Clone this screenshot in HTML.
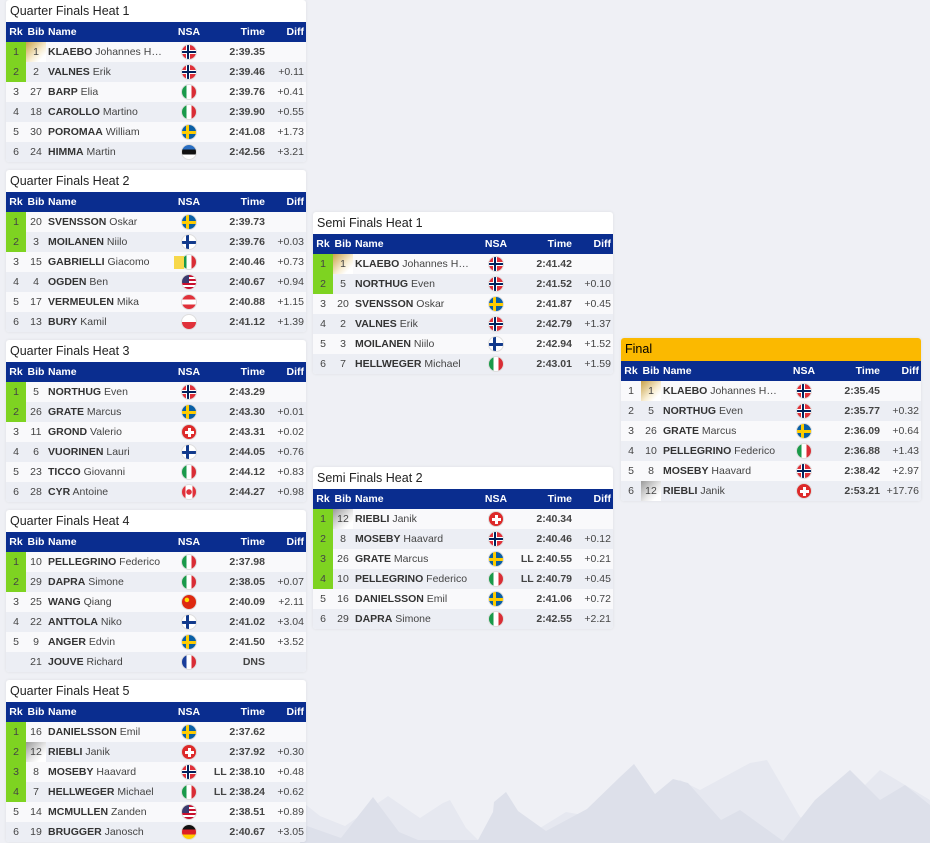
<!DOCTYPE html>
<html><head><meta charset="utf-8">
<style>
*{box-sizing:border-box;margin:0;padding:0}
body{width:930px;height:843px;background:#eff0f5;position:relative;overflow:hidden;font-family:"Liberation Sans",Arial,sans-serif;color:#333}
svg.bg{position:absolute;left:0;top:0}
.p{position:absolute;width:300px;background:#fff;border-radius:3px;box-shadow:0 0 3px rgba(0,0,0,.08);overflow:hidden}
.t{height:22px;line-height:22px;font-size:12.5px;padding-left:4px;color:#222}
.fin .t{background:#fbb900;height:23px;line-height:23px;color:#000}
table{border-collapse:collapse;table-layout:fixed;width:300px;font-size:10.5px}
th{background:#0a2d8f;color:#fff;font-weight:bold;height:20px;font-size:10.5px}
td{height:20px;white-space:nowrap;overflow:hidden;color:#444}
td b{color:#333}
tr:nth-child(odd) td{background:#eceef4}
tr:nth-child(even) td{background:#f9f9fb}
td:nth-child(1),th:nth-child(1){text-align:center}
td:nth-child(2),th:nth-child(2){text-align:center}
td:nth-child(3),th:nth-child(3){text-align:left;padding-left:2px;text-overflow:ellipsis}
td:nth-child(4),th:nth-child(4){text-align:center;position:relative}
td:nth-child(5),th:nth-child(5){text-align:right;padding-right:2px;font-weight:bold}
td:nth-child(6),th:nth-child(6){text-align:right;padding-right:2px}
th:nth-child(5),th:nth-child(6){color:#fff}
tr.q td:nth-child(1){background:#7ed321}
td.g{background:linear-gradient(135deg,#c9a24a,#f7ecd0 55%,#fff 80%)!important}
td.s{background:linear-gradient(135deg,#9a9a9a,#e8e8e8 55%,#fff 80%)!important}
.f{display:inline-block;width:16px;height:16px;border-radius:50%;vertical-align:middle;border:1px solid #ddd}
.nor{background:linear-gradient(#00205b,#00205b) 5px 0/2px 100% no-repeat,linear-gradient(#00205b,#00205b) 0 6px/100% 2px no-repeat,linear-gradient(#fff,#fff) 4px 0/4px 100% no-repeat,linear-gradient(#fff,#fff) 0 5px/100% 4px no-repeat,#e0313a}
.swe{background:linear-gradient(#fecc00,#fecc00) 4px 0/3px 100% no-repeat,linear-gradient(#fecc00,#fecc00) 0 5.5px/100% 3px no-repeat,#0a5fa5}
.fin{background:linear-gradient(#123a8c,#123a8c) 4px 0/3px 100% no-repeat,linear-gradient(#123a8c,#123a8c) 0 5.5px/100% 3px no-repeat,#fff}
.ita{background:linear-gradient(90deg,#1a9a4a 33%,#fff 33% 67%,#d92d35 67%)}
.fra{background:linear-gradient(90deg,#1a3e9a 33%,#fff 33% 67%,#d92d35 67%)}
.est{background:linear-gradient(#2a6ec2 33%,#111 33% 67%,#fff 67%)}
.aut{background:linear-gradient(#e0313a 33%,#fff 33% 67%,#e0313a 67%)}
.pol{background:linear-gradient(#fff 50%,#e0313a 50%)}
.ger{background:linear-gradient(#111 33%,#dd1f26 33% 67%,#ffce00 67%)}
.sui{background:linear-gradient(#fff,#fff) 6px 3px/3px 9px no-repeat,linear-gradient(#fff,#fff) 3px 6px/9px 3px no-repeat,#dd2a2a}
.can{background:radial-gradient(circle at 50% 50%,#e0313a 2.5px,transparent 3px),linear-gradient(90deg,#e0313a 25%,#fff 25% 75%,#e0313a 75%)}
.chn{background:radial-gradient(circle at 35% 35%,#ffde00 2px,transparent 2.5px),#de2910}
.usa{background:linear-gradient(#3c3b6e,#3c3b6e) 0 0/7px 8px no-repeat,repeating-linear-gradient(#c8102e 0 2px,#fff 2px 4px)}
.yc{position:absolute;left:8px;top:4px;width:10px;height:13px;background:#f7d84a}
</style></head><body>
<svg class="bg" width="930" height="843">
<polygon fill="#e6e8f0" points="300,843 300,800 320,816 345,826 388,796 420,818 443,803 450,800 466,828 478,840 540,828 566,812 600,818 620,796 640,810 680,780 700,790 750,763 767,760 800,817 830,830 860,790 880,770 930,800 930,843"/>
<polygon fill="#dde0ea" points="300,843 307,826 341,838 373,797 399,832 418,840 478,840 493,812 494,802 506,792 518,811 546,831 587,809 620,777 634,764 655,794 673,779 688,783 721,820 740,810 783,841 815,800 850,770 880,800 905,785 930,805 930,843"/>
</svg>

<div class="p" style="left:6px;top:0">
<div class="t">Quarter Finals Heat 1</div>
<table><colgroup><col style="width:20px"><col style="width:20px"><col style="width:120px"><col style="width:46px"><col style="width:55px"><col style="width:39px"></colgroup>
<tr><th>Rk</th><th>Bib</th><th>Name</th><th>NSA</th><th>Time</th><th>Diff</th></tr>
<tr class="q"><td>1</td><td class="g">1</td><td><b>KLAEBO</b> Johannes Hoesflot</td><td><i class="f nor"></i></td><td>2:39.35</td><td></td></tr>
<tr class="q"><td>2</td><td>2</td><td><b>VALNES</b> Erik</td><td><i class="f nor"></i></td><td>2:39.46</td><td>+0.11</td></tr>
<tr><td>3</td><td>27</td><td><b>BARP</b> Elia</td><td><i class="f ita"></i></td><td>2:39.76</td><td>+0.41</td></tr>
<tr><td>4</td><td>18</td><td><b>CAROLLO</b> Martino</td><td><i class="f ita"></i></td><td>2:39.90</td><td>+0.55</td></tr>
<tr><td>5</td><td>30</td><td><b>POROMAA</b> William</td><td><i class="f swe"></i></td><td>2:41.08</td><td>+1.73</td></tr>
<tr><td>6</td><td>24</td><td><b>HIMMA</b> Martin</td><td><i class="f est"></i></td><td>2:42.56</td><td>+3.21</td></tr>
</table></div>

<div class="p" style="left:6px;top:170px">
<div class="t">Quarter Finals Heat 2</div>
<table><colgroup><col style="width:20px"><col style="width:20px"><col style="width:120px"><col style="width:46px"><col style="width:55px"><col style="width:39px"></colgroup>
<tr><th>Rk</th><th>Bib</th><th>Name</th><th>NSA</th><th>Time</th><th>Diff</th></tr>
<tr class="q"><td>1</td><td>20</td><td><b>SVENSSON</b> Oskar</td><td><i class="f swe"></i></td><td>2:39.73</td><td></td></tr>
<tr class="q"><td>2</td><td>3</td><td><b>MOILANEN</b> Niilo</td><td><i class="f fin"></i></td><td>2:39.76</td><td>+0.03</td></tr>
<tr><td>3</td><td>15</td><td><b>GABRIELLI</b> Giacomo</td><td><span class="yc"></span><i class="f ita"></i></td><td>2:40.46</td><td>+0.73</td></tr>
<tr><td>4</td><td>4</td><td><b>OGDEN</b> Ben</td><td><i class="f usa"></i></td><td>2:40.67</td><td>+0.94</td></tr>
<tr><td>5</td><td>17</td><td><b>VERMEULEN</b> Mika</td><td><i class="f aut"></i></td><td>2:40.88</td><td>+1.15</td></tr>
<tr><td>6</td><td>13</td><td><b>BURY</b> Kamil</td><td><i class="f pol"></i></td><td>2:41.12</td><td>+1.39</td></tr>
</table></div>

<div class="p" style="left:6px;top:340px">
<div class="t">Quarter Finals Heat 3</div>
<table><colgroup><col style="width:20px"><col style="width:20px"><col style="width:120px"><col style="width:46px"><col style="width:55px"><col style="width:39px"></colgroup>
<tr><th>Rk</th><th>Bib</th><th>Name</th><th>NSA</th><th>Time</th><th>Diff</th></tr>
<tr class="q"><td>1</td><td>5</td><td><b>NORTHUG</b> Even</td><td><i class="f nor"></i></td><td>2:43.29</td><td></td></tr>
<tr class="q"><td>2</td><td>26</td><td><b>GRATE</b> Marcus</td><td><i class="f swe"></i></td><td>2:43.30</td><td>+0.01</td></tr>
<tr><td>3</td><td>11</td><td><b>GROND</b> Valerio</td><td><i class="f sui"></i></td><td>2:43.31</td><td>+0.02</td></tr>
<tr><td>4</td><td>6</td><td><b>VUORINEN</b> Lauri</td><td><i class="f fin"></i></td><td>2:44.05</td><td>+0.76</td></tr>
<tr><td>5</td><td>23</td><td><b>TICCO</b> Giovanni</td><td><i class="f ita"></i></td><td>2:44.12</td><td>+0.83</td></tr>
<tr><td>6</td><td>28</td><td><b>CYR</b> Antoine</td><td><i class="f can"></i></td><td>2:44.27</td><td>+0.98</td></tr>
</table></div>

<div class="p" style="left:6px;top:510px">
<div class="t">Quarter Finals Heat 4</div>
<table><colgroup><col style="width:20px"><col style="width:20px"><col style="width:120px"><col style="width:46px"><col style="width:55px"><col style="width:39px"></colgroup>
<tr><th>Rk</th><th>Bib</th><th>Name</th><th>NSA</th><th>Time</th><th>Diff</th></tr>
<tr class="q"><td>1</td><td>10</td><td><b>PELLEGRINO</b> Federico</td><td><i class="f ita"></i></td><td>2:37.98</td><td></td></tr>
<tr class="q"><td>2</td><td>29</td><td><b>DAPRA</b> Simone</td><td><i class="f ita"></i></td><td>2:38.05</td><td>+0.07</td></tr>
<tr><td>3</td><td>25</td><td><b>WANG</b> Qiang</td><td><i class="f chn"></i></td><td>2:40.09</td><td>+2.11</td></tr>
<tr><td>4</td><td>22</td><td><b>ANTTOLA</b> Niko</td><td><i class="f fin"></i></td><td>2:41.02</td><td>+3.04</td></tr>
<tr><td>5</td><td>9</td><td><b>ANGER</b> Edvin</td><td><i class="f swe"></i></td><td>2:41.50</td><td>+3.52</td></tr>
<tr><td></td><td>21</td><td><b>JOUVE</b> Richard</td><td><i class="f fra"></i></td><td>DNS</td><td></td></tr>
</table></div>

<div class="p" style="left:6px;top:680px">
<div class="t">Quarter Finals Heat 5</div>
<table><colgroup><col style="width:20px"><col style="width:20px"><col style="width:120px"><col style="width:46px"><col style="width:55px"><col style="width:39px"></colgroup>
<tr><th>Rk</th><th>Bib</th><th>Name</th><th>NSA</th><th>Time</th><th>Diff</th></tr>
<tr class="q"><td>1</td><td>16</td><td><b>DANIELSSON</b> Emil</td><td><i class="f swe"></i></td><td>2:37.62</td><td></td></tr>
<tr class="q"><td>2</td><td class="s">12</td><td><b>RIEBLI</b> Janik</td><td><i class="f sui"></i></td><td>2:37.92</td><td>+0.30</td></tr>
<tr class="q"><td>3</td><td>8</td><td><b>MOSEBY</b> Haavard</td><td><i class="f nor"></i></td><td>LL 2:38.10</td><td>+0.48</td></tr>
<tr class="q"><td>4</td><td>7</td><td><b>HELLWEGER</b> Michael</td><td><i class="f ita"></i></td><td>LL 2:38.24</td><td>+0.62</td></tr>
<tr><td>5</td><td>14</td><td><b>MCMULLEN</b> Zanden</td><td><i class="f usa"></i></td><td>2:38.51</td><td>+0.89</td></tr>
<tr><td>6</td><td>19</td><td><b>BRUGGER</b> Janosch</td><td><i class="f ger"></i></td><td>2:40.67</td><td>+3.05</td></tr>
</table></div>

<div class="p" style="left:313px;top:212px">
<div class="t">Semi Finals Heat 1</div>
<table><colgroup><col style="width:20px"><col style="width:20px"><col style="width:120px"><col style="width:46px"><col style="width:55px"><col style="width:39px"></colgroup>
<tr><th>Rk</th><th>Bib</th><th>Name</th><th>NSA</th><th>Time</th><th>Diff</th></tr>
<tr class="q"><td>1</td><td class="g">1</td><td><b>KLAEBO</b> Johannes Hoesflot</td><td><i class="f nor"></i></td><td>2:41.42</td><td></td></tr>
<tr class="q"><td>2</td><td>5</td><td><b>NORTHUG</b> Even</td><td><i class="f nor"></i></td><td>2:41.52</td><td>+0.10</td></tr>
<tr><td>3</td><td>20</td><td><b>SVENSSON</b> Oskar</td><td><i class="f swe"></i></td><td>2:41.87</td><td>+0.45</td></tr>
<tr><td>4</td><td>2</td><td><b>VALNES</b> Erik</td><td><i class="f nor"></i></td><td>2:42.79</td><td>+1.37</td></tr>
<tr><td>5</td><td>3</td><td><b>MOILANEN</b> Niilo</td><td><i class="f fin"></i></td><td>2:42.94</td><td>+1.52</td></tr>
<tr><td>6</td><td>7</td><td><b>HELLWEGER</b> Michael</td><td><i class="f ita"></i></td><td>2:43.01</td><td>+1.59</td></tr>
</table></div>

<div class="p" style="left:313px;top:467px">
<div class="t">Semi Finals Heat 2</div>
<table><colgroup><col style="width:20px"><col style="width:20px"><col style="width:120px"><col style="width:46px"><col style="width:55px"><col style="width:39px"></colgroup>
<tr><th>Rk</th><th>Bib</th><th>Name</th><th>NSA</th><th>Time</th><th>Diff</th></tr>
<tr class="q"><td>1</td><td class="s">12</td><td><b>RIEBLI</b> Janik</td><td><i class="f sui"></i></td><td>2:40.34</td><td></td></tr>
<tr class="q"><td>2</td><td>8</td><td><b>MOSEBY</b> Haavard</td><td><i class="f nor"></i></td><td>2:40.46</td><td>+0.12</td></tr>
<tr class="q"><td>3</td><td>26</td><td><b>GRATE</b> Marcus</td><td><i class="f swe"></i></td><td>LL 2:40.55</td><td>+0.21</td></tr>
<tr class="q"><td>4</td><td>10</td><td><b>PELLEGRINO</b> Federico</td><td><i class="f ita"></i></td><td>LL 2:40.79</td><td>+0.45</td></tr>
<tr><td>5</td><td>16</td><td><b>DANIELSSON</b> Emil</td><td><i class="f swe"></i></td><td>2:41.06</td><td>+0.72</td></tr>
<tr><td>6</td><td>29</td><td><b>DAPRA</b> Simone</td><td><i class="f ita"></i></td><td>2:42.55</td><td>+2.21</td></tr>
</table></div>

<div class="p fin" style="left:621px;top:338px">
<div class="t">Final</div>
<table><colgroup><col style="width:20px"><col style="width:20px"><col style="width:120px"><col style="width:46px"><col style="width:55px"><col style="width:39px"></colgroup>
<tr><th>Rk</th><th>Bib</th><th>Name</th><th>NSA</th><th>Time</th><th>Diff</th></tr>
<tr><td>1</td><td class="g">1</td><td><b>KLAEBO</b> Johannes Hoesflot</td><td><i class="f nor"></i></td><td>2:35.45</td><td></td></tr>
<tr><td>2</td><td>5</td><td><b>NORTHUG</b> Even</td><td><i class="f nor"></i></td><td>2:35.77</td><td>+0.32</td></tr>
<tr><td>3</td><td>26</td><td><b>GRATE</b> Marcus</td><td><i class="f swe"></i></td><td>2:36.09</td><td>+0.64</td></tr>
<tr><td>4</td><td>10</td><td><b>PELLEGRINO</b> Federico</td><td><i class="f ita"></i></td><td>2:36.88</td><td>+1.43</td></tr>
<tr><td>5</td><td>8</td><td><b>MOSEBY</b> Haavard</td><td><i class="f nor"></i></td><td>2:38.42</td><td>+2.97</td></tr>
<tr><td>6</td><td class="s">12</td><td><b>RIEBLI</b> Janik</td><td><i class="f sui"></i></td><td>2:53.21</td><td>+17.76</td></tr>
</table></div>
</body></html>
